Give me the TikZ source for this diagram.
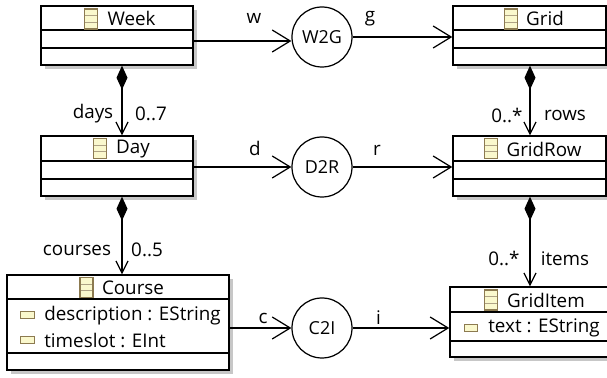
\documentclass[tikz,border=0pt]{standalone}
\usepackage{fontspec}
\setmainfont{Open Sans}
\usetikzlibrary{arrows.meta, shadows}
\definecolor{iconedge}{RGB}{140,122,80}
\definecolor{iconfill}{RGB}{250,248,205}
\tikzset{
    every node/.style={font=\fontsize{10.7}{12}\selectfont, text=black},
    classbox/.style={draw, fill=white, line width=0.8pt, inner sep=0pt,
        drop shadow={shadow xshift=0.08cm, shadow yshift=-0.08cm, fill=black!22, opacity=1}},
    mapcircle/.style={draw, circle, fill=white, line width=0.7pt, minimum size=1.2cm, inner sep=0pt},
    classicon/.style={draw=iconedge, fill=iconfill, line width=0.7pt, inner sep=0pt,
        minimum width=0.26cm, minimum height=0.4cm,
        path picture={
            \draw [iconedge!70] ([yshift=0.067cm]path picture bounding box.west) -- ([yshift=0.067cm]path picture bounding box.east);
            \draw [iconedge!70] ([yshift=-0.067cm]path picture bounding box.west) -- ([yshift=-0.067cm]path picture bounding box.east);
        }},
    attricon/.style={draw=iconedge, fill=iconfill, line width=0.7pt, inner sep=0pt,
        minimum width=0.27cm, minimum height=0.13cm},
    refline/.style={->, >={Straight Barb[length=0.36cm, width=0.44cm]}, line width=0.7pt},
    compline/.style={{Diamond[length=0.48cm, width=0.22cm]}->, >={Straight Barb[length=0.24cm, width=0.24cm]}, line width=0.7pt},
    divline/.style={line width=0.7pt},
}
\begin{document}
\begin{tikzpicture}
    \useasboundingbox [fill=white] (0,0) rectangle (12.14,7.56);

    % left column
    \node [classbox, minimum width=3.04cm, minimum height=1.18cm] (week) at (2.34,6.85) {};
    \node [classbox, minimum width=3.04cm, minimum height=1.2cm] (day) at (2.34,4.24) {};
    \node [classbox, minimum width=4.44cm, minimum height=1.9cm] (course) at (2.36,1.11) {};
    \draw [divline] (week.west |- 0,6.96) -- (week.east |- 0,6.96);
    \draw [divline] (week.west |- 0,6.6) -- (week.east |- 0,6.6);
    \draw [divline] (day.west |- 0,4.34) -- (day.east |- 0,4.34);
    \draw [divline] (day.west |- 0,3.98) -- (day.east |- 0,3.98);
    \draw [divline] (course.west |- 0,1.58) -- (course.east |- 0,1.58);
    \draw [divline] (course.west |- 0,0.5) -- (course.east |- 0,0.5);

    % right column
    \node [classbox, minimum width=3.06cm, minimum height=1.18cm] (grid) at (10.59,6.85) {};
    \node [classbox, minimum width=3.06cm, minimum height=1.2cm] (gridrow) at (10.59,4.24) {};
    \node [classbox, minimum width=3.16cm, minimum height=1.4cm] (griditem) at (10.58,1.12) {};
    \draw [divline] (grid.west |- 0,6.96) -- (grid.east |- 0,6.96);
    \draw [divline] (grid.west |- 0,6.6) -- (grid.east |- 0,6.6);
    \draw [divline] (gridrow.west |- 0,4.34) -- (gridrow.east |- 0,4.34);
    \draw [divline] (gridrow.west |- 0,3.98) -- (gridrow.east |- 0,3.98);
    \draw [divline] (griditem.west |- 0,1.32) -- (griditem.east |- 0,1.32);
    \draw [divline] (griditem.west |- 0,0.74) -- (griditem.east |- 0,0.74);

    % class titles
    \node [classicon] (weekicon) at (1.82,7.18) {};
    \node (weektitle) at (2.63,7.19) {Week};
    \node [classicon] (dayicon) at (2.0,4.59) {};
    \node (daytitle) at (2.66,4.58) {Day};
    \node [classicon] (courseicon) at (1.73,1.81) {};
    \node (coursetitle) at (2.66,1.8) {Course};
    \node [classicon] (gridicon) at (10.22,7.18) {};
    \node (gridtitle) at (10.9,7.19) {Grid};
    \node [classicon] (gridrowicon) at (9.82,4.59) {};
    \node (gridrowtitle) at (10.88,4.58) {GridRow};
    \node [classicon] (griditemicon) at (9.82,1.56) {};
    \node (griditemtitle) at (10.92,1.56) {GridItem};

    % attributes
    \node [attricon] (descicon) at (0.55,1.26) {};
    \node [anchor=west, inner sep=0pt] (desc) at (0.88,1.24) {description : EString};
    \node [attricon] (sloticon) at (0.55,0.76) {};
    \node [anchor=west, inner sep=0pt] (slot) at (0.88,0.76) {timeslot : EInt};
    \node [attricon] (texticon) at (9.42,1.0) {};
    \node [anchor=west, inner sep=0pt] (text) at (9.76,1.0) {text : EString};

    % mapping circles
    \node [mapcircle, font=\fontsize{10.2}{12}\selectfont] (w2g) at (6.44,6.82) {W2G};
    \node [mapcircle, font=\fontsize{10.2}{12}\selectfont] (d2r) at (6.44,4.22) {D2R};
    \node [mapcircle, font=\fontsize{10.2}{12}\selectfont] (c2i) at (6.44,1.0) {C2I};

    % references
    \coordinate (wky) at (0,6.74);
    \draw [refline] (week.east |- wky) -- (w2g.west |- wky);
    \draw [refline] (w2g) -- (grid.west |- w2g);
    \draw [refline] (day.east |- d2r) -- (d2r);
    \draw [refline] (d2r) -- (gridrow.west |- d2r);
    \draw [refline] (course.east |- c2i) -- (c2i);
    \draw [refline] (c2i) -- (griditem.west |- c2i);

    % containment
    \coordinate (lcol) at (2.44,0);
    \coordinate (rcol) at (10.6,0);
    \draw [compline] (lcol |- week.south) -- (lcol |- day.north);
    \draw [compline] (lcol |- day.south) -- (lcol |- course.north);
    \draw [compline] (rcol |- grid.south) -- (rcol |- gridrow.north);
    \draw [compline] (rcol |- gridrow.south) -- (rcol |- griditem.north);

    % labels
    \node (wlabel) at (5.08,7.2) {w};
    \node (glabel) at (7.4,7.18) {g};
    \node (dlabel) at (5.1,4.6) {d};
    \node (rlabel) at (7.54,4.56) {r};
    \node (clabel) at (5.26,1.2) {c};
    \node (ilabel) at (7.57,1.2) {i};
    \node (dayslabel) at (1.86,5.28) {days};
    \node (daysmult) at (3.02,5.28) {0..7};
    \node (courseslabel) at (1.54,2.56) {courses};
    \node (coursesmult) at (2.94,2.56) {0..5};
    \node (rowsmult) at (10.14,5.26) {0..*};
    \node (rowslabel) at (11.3,5.26) {rows};
    \node (itemsmult) at (10.08,2.4) {0..*};
    \node (itemslabel) at (11.3,2.38) {items};
\end{tikzpicture}
\end{document}
